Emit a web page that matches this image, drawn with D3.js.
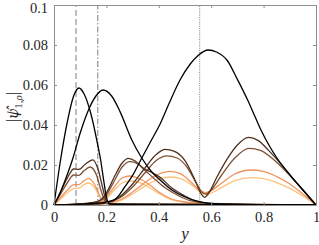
<!DOCTYPE html>
<html><head><meta charset="utf-8">
<script src="https://cdn.jsdelivr.net/npm/d3@7"></script>
<style>body{margin:0;background:#fff}svg{display:block}</style>
</head><body><svg id="c" width="319" height="245"></svg>
<script>
// ---- data (y, |psi|) ----
const xTicks = [0, 0.2, 0.4, 0.6, 0.8, 1];
const xTickLabels = ["0", "0.2", "0.4", "0.6", "0.8", "1"];
const yTicks = [0, 0.02, 0.04, 0.06, 0.08, 0.1];
const yTickLabels = ["0", "0.02", "0.04", "0.06", "0.08", "0.1"];
const refLines = [0.084, 0.167, 0.556];
const refStyles = ["6,3", "6,2,1.5,2", "1,1.2"];
const levelColors = ["#ffc27c", "#ed955f", "#7f5033", "#4f3220", "#000000"];

// family A (left)
const A0 = [[0,0],[0.025,0.0225],[0.05,0.041],[0.075,0.0545],[0.095,0.0585],[0.115,0.0555],[0.14,0.046],[0.167,0.030],[0.178,0.0225],[0.19,0.012],[0.2,0.004],[0.21,0.0005],[0.3,0.0003],[1,0]];
const A1 = [[0,0],[0.03,0.008],[0.055,0.0145],[0.075,0.018],[0.095,0.0178],[0.12,0.0205],[0.148,0.0226],[0.168,0.018],[0.186,0.0085],[0.2,0.002],[0.22,0.0005],[1,0]];
const A2 = [[0,0],[0.03,0.0065],[0.055,0.012],[0.075,0.015],[0.095,0.0148],[0.115,0.0172],[0.138,0.019],[0.162,0.015],[0.18,0.007],[0.195,0.002],[0.22,0.0004],[1,0]];
const A3 = [[0,0],[0.03,0.0045],[0.055,0.008],[0.075,0.0102],[0.095,0.0102],[0.115,0.0122],[0.132,0.0133],[0.156,0.010],[0.175,0.0045],[0.19,0.0015],[0.22,0.0003],[1,0]];
const A4 = [[0,0],[0.03,0.0035],[0.055,0.0065],[0.075,0.0082],[0.095,0.0084],[0.115,0.0102],[0.132,0.011],[0.156,0.0085],[0.175,0.004],[0.19,0.0012],[0.22,0.0003],[1,0]];
// family B (middle)
const B0 = [[0,0],[0.02,0.005],[0.05,0.015],[0.07,0.0225],[0.1,0.036],[0.13,0.047],[0.16,0.0545],[0.187,0.0575],[0.22,0.0545],[0.252,0.0467],[0.297,0.0325],[0.335,0.0235],[0.37,0.017],[0.405,0.0125],[0.45,0.0075],[0.5,0.004],[0.55,0.0018],[0.62,0.0006],[1,0]];
const B1 = [[0,0],[0.12,0.0008],[0.17,0.002],[0.2,0.006],[0.23,0.014],[0.26,0.021],[0.284,0.0233],[0.31,0.022],[0.34,0.0185],[0.37,0.0165],[0.405,0.0138],[0.45,0.0085],[0.5,0.0045],[0.53,0.0025],[0.6,0.0008],[1,0]];
const B2 = [[0,0],[0.12,0.0007],[0.17,0.0018],[0.2,0.005],[0.23,0.012],[0.26,0.019],[0.29,0.0217],[0.32,0.0205],[0.35,0.017],[0.38,0.0135],[0.42,0.009],[0.47,0.005],[0.52,0.0022],[0.6,0.0007],[1,0]];
const B3 = [[0,0],[0.12,0.0006],[0.17,0.0015],[0.2,0.004],[0.23,0.009],[0.26,0.0135],[0.29,0.0145],[0.32,0.0135],[0.36,0.0105],[0.4,0.0065],[0.44,0.0035],[0.5,0.0015],[0.6,0.0005],[1,0]];
const B4 = [[0,0],[0.12,0.0005],[0.17,0.0013],[0.2,0.0032],[0.23,0.0075],[0.26,0.011],[0.29,0.012],[0.32,0.0115],[0.36,0.009],[0.4,0.0058],[0.44,0.003],[0.5,0.0013],[0.6,0.0004],[1,0]];
// family C (right)
const C0 = [[0,0],[0.1,0.0004],[0.17,0.001],[0.2,0.0015],[0.233,0.0028],[0.27,0.009],[0.3,0.0148],[0.335,0.0235],[0.37,0.032],[0.405,0.0405],[0.44,0.051],[0.481,0.0625],[0.52,0.0705],[0.55,0.0748],[0.589,0.0775],[0.62,0.0765],[0.66,0.0725],[0.7,0.0628],[0.74,0.0522],[0.767,0.0442],[0.79,0.0375],[0.82,0.030],[0.856,0.0225],[0.9,0.0152],[0.95,0.0075],[1,0]];
const C1 = [[0,0],[0.15,0.0005],[0.2,0.0012],[0.25,0.004],[0.3,0.0105],[0.35,0.019],[0.39,0.0252],[0.424,0.0278],[0.46,0.0268],[0.5,0.0222],[0.538,0.0125],[0.562,0.0055],[0.575,0.0038],[0.59,0.0058],[0.62,0.0135],[0.66,0.0228],[0.7,0.0300],[0.742,0.0338],[0.78,0.0322],[0.82,0.0272],[0.863,0.021],[0.9,0.015],[0.95,0.0075],[1,0]];
const C2 = [[0,0],[0.15,0.0004],[0.2,0.001],[0.25,0.0035],[0.3,0.009],[0.35,0.0165],[0.39,0.0222],[0.43,0.0246],[0.47,0.0235],[0.51,0.0185],[0.545,0.0105],[0.568,0.006],[0.58,0.0055],[0.6,0.0075],[0.64,0.015],[0.69,0.0235],[0.745,0.0283],[0.79,0.0272],[0.84,0.0225],[0.88,0.0175],[0.93,0.0105],[1,0]];
const C3 = [[0,0],[0.15,0.0003],[0.2,0.0008],[0.25,0.0025],[0.3,0.0065],[0.35,0.0115],[0.4,0.0155],[0.44,0.0168],[0.48,0.0158],[0.52,0.0118],[0.555,0.0075],[0.578,0.0062],[0.6,0.0072],[0.64,0.011],[0.69,0.0155],[0.75,0.0175],[0.8,0.0168],[0.85,0.0142],[0.9,0.0105],[0.95,0.0055],[1,0]];
const C4 = [[0,0],[0.15,0.0003],[0.2,0.0007],[0.25,0.002],[0.3,0.0055],[0.35,0.0097],[0.4,0.013],[0.445,0.014],[0.49,0.0128],[0.53,0.0095],[0.56,0.0062],[0.58,0.0052],[0.6,0.006],[0.64,0.0088],[0.69,0.0122],[0.755,0.0137],[0.8,0.0132],[0.85,0.0112],[0.9,0.0083],[0.95,0.0045],[1,0]];

const families = [[A4,A3,A2,A1,A0],[B4,B3,B2,B1,B0],[C4,C3,C2,C1,C0]];

// ---- drawing ----
const W = 319, H = 245;
const m = {l: 54, r: 3, t: 5, b: 40};
const svg = d3.select("#c");
const x = d3.scaleLinear().domain([0, 1]).range([m.l, W - m.r]);
const y = d3.scaleLinear().domain([0, 0.1]).range([H - m.b, m.t]);
const axisColor = "#8f8f8f", textColor = "#262626";
const SERIF = '"Liberation Serif"';

const plot = svg.append("g");
refLines.forEach((v, i) => {
  plot.append("line").attr("x1", x(v)).attr("x2", x(v)).attr("y1", y(0)).attr("y2", y(0.1))
    .attr("stroke", "#8a8a8a").attr("stroke-width", 1.1).attr("stroke-dasharray", refStyles[i]);
});
const line = d3.line().x(d => x(d[0])).y(d => y(d[1])).curve(d3.curveMonotoneX);
for (let lvl = 0; lvl < 5; lvl++) {
  families.forEach(f => {
    plot.append("path").datum(f[lvl]).attr("d", line).attr("fill", "none")
      .attr("stroke", levelColors[lvl]).attr("stroke-width", 1.3);
  });
}

function styleAxis(g) {
  g.select(".domain").attr("stroke", axisColor).attr("stroke-width", 1);
  g.selectAll(".tick line").attr("stroke", axisColor);
  g.selectAll("text").attr("fill", textColor).attr("font-size", 14.5).style("font-family", SERIF);
}
svg.append("g").attr("transform", `translate(0,${y(0)})`)
  .call(d3.axisBottom(x).tickValues(xTicks).tickFormat((d, i) => xTickLabels[i]).tickSizeInner(-3).tickSizeOuter(0).tickPadding(7))
  .call(styleAxis);
svg.append("g").attr("transform", `translate(0,${y(0.1)})`)
  .call(d3.axisTop(x).tickValues(xTicks).tickFormat("").tickSizeInner(-3).tickSizeOuter(0))
  .call(styleAxis);
svg.append("g").attr("transform", `translate(${x(0)},0)`)
  .call(d3.axisLeft(y).tickValues(yTicks).tickFormat((d, i) => yTickLabels[i]).tickSizeInner(-3).tickSizeOuter(0).tickPadding(6))
  .call(styleAxis);
svg.append("g").attr("transform", `translate(${x(1)},0)`)
  .call(d3.axisRight(y).tickValues(yTicks).tickFormat("").tickSizeInner(-3).tickSizeOuter(0))
  .call(styleAxis);
// keep the top label inside the picture
svg.selectAll("text").filter(function() { return this.textContent === "0.1"; }).attr("dy", "0.55em");

svg.append("text").attr("x", (x(0) + x(1)) / 2).attr("y", 239).attr("text-anchor", "middle")
  .style("font-family", SERIF).attr("font-style", "italic").attr("font-size", 17).attr("fill", textColor).text("y");
const yl = svg.append("text").attr("transform", `translate(18,${(y(0) + y(0.1)) / 2 + 2}) rotate(-90)`)
  .attr("text-anchor", "middle").style("font-family", SERIF).attr("font-size", 16).attr("fill", textColor);
yl.append("tspan").text("|");
yl.append("tspan").attr("font-style", "italic").style("font-family", '"Noto Serif"').attr("font-size", 14).text("ψ\u0302");
yl.append("tspan").attr("font-size", 11).attr("dy", 4).text("1,");
yl.append("tspan").attr("font-size", 11).attr("font-style", "italic").text("ρ");
yl.append("tspan").attr("dy", -4).text("|");
</script></body></html>
